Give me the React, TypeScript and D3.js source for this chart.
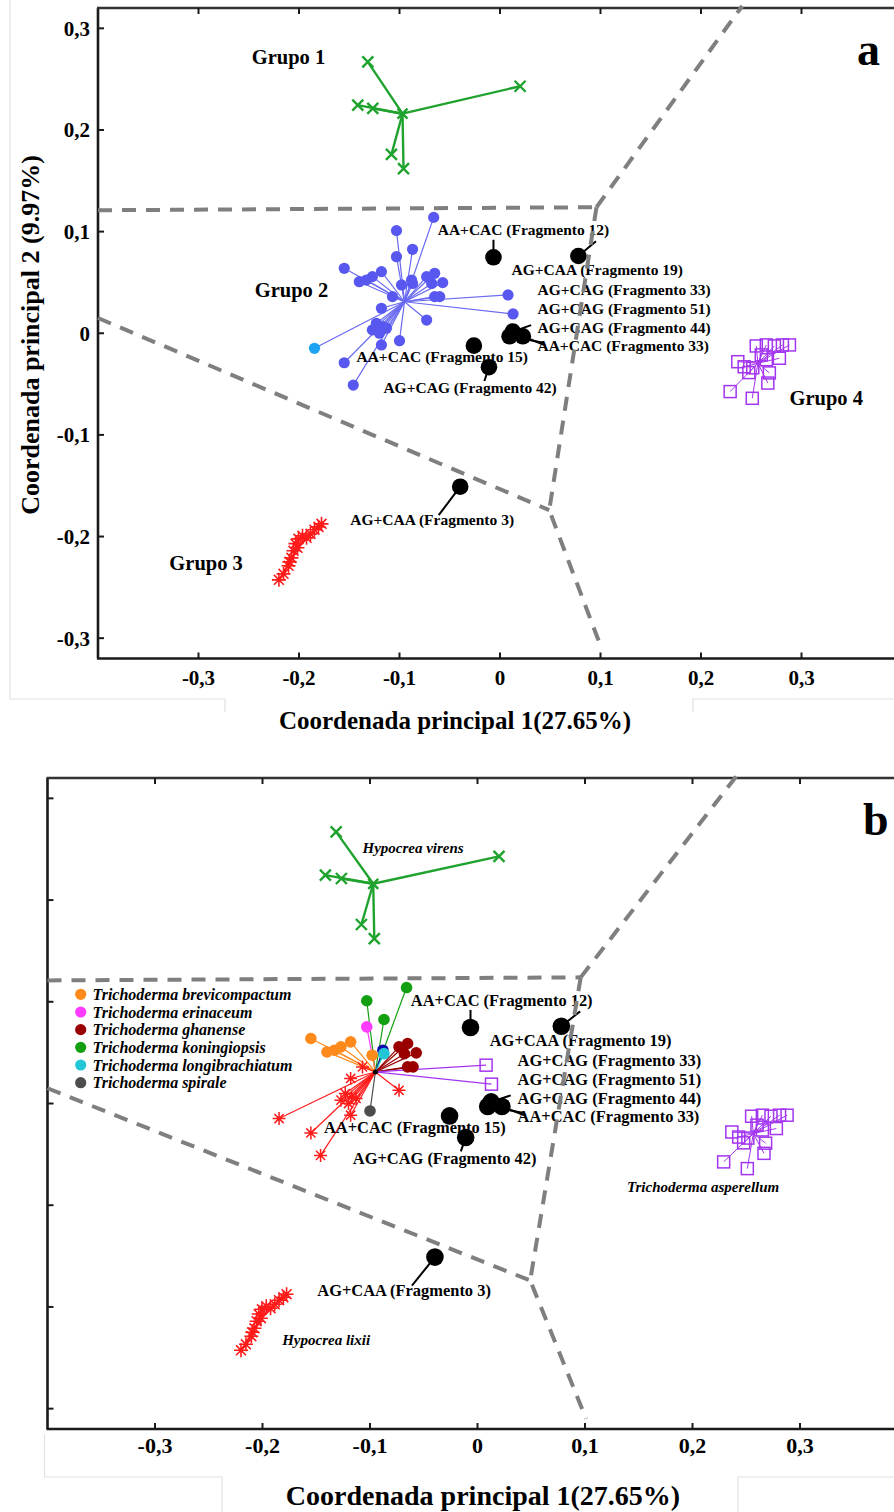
import * as d3 from 'd3';

const TICKS = [-0.3, -0.2, -0.1, 0, 0.1, 0.2, 0.3];
const TICK_LABELS = ['-0,3', '-0,2', '-0,1', '0', '0,1', '0,2', '0,3'];

// Grupo 1 / Hypocrea virens
const grupo1 = [[-0.1315, 0.267], [-0.1415, 0.2245], [-0.1266, 0.2212], [-0.108, 0.176], [-0.096, 0.162], [0.02, 0.243]];
const grupo1Centro = [-0.097, 0.216];

// Grupo 2: x, y, especie (panel b), punto celeste en panel a
const grupo2 = [
  { x: -0.066, y: 0.114, sp: 'kon' },
  { x: -0.103, y: 0.101, sp: 'kon' },
  { x: -0.087, y: 0.0826, sp: 'kon' },
  { x: -0.103, y: 0.0753, sp: 'eri' },
  { x: -0.155, y: 0.0639, sp: 'bre' },
  { x: -0.133, y: 0.0524, sp: 'bre' },
  { x: -0.127, y: 0.0557, sp: 'bre' },
  { x: -0.118, y: 0.0606, sp: 'bre' },
  { x: -0.14, y: 0.0507, sp: 'bre' },
  { x: -0.098, y: 0.0475, sp: 'bre' },
  { x: -0.088, y: 0.0524, sp: 'nav' },
  { x: -0.087, y: 0.049, sp: 'lon' },
  { x: -0.073, y: 0.0557, sp: 'gha' },
  { x: -0.065, y: 0.059, sp: 'gha' },
  { x: -0.068, y: 0.049, sp: 'gha' },
  { x: -0.057, y: 0.0498, sp: 'gha' },
  { x: -0.065, y: 0.036, sp: 'gha' },
  { x: -0.06, y: 0.036, sp: 'gha' },
  { x: -0.107, y: 0.036, sp: 'lix' },
  { x: 0.008, y: 0.0377, sp: 'asp' },
  { x: 0.013, y: 0.019, sp: 'asp' },
  { x: -0.118, y: 0.0246, sp: 'lix' },
  { x: -0.073, y: 0.013, sp: 'lix' },
  { x: -0.123, y: 0.0098, sp: 'lix' },
  { x: -0.117, y: 0.0065, sp: 'lix' },
  { x: -0.127, y: 0.0033, sp: 'lix' },
  { x: -0.12, y: 0.0, sp: 'lix' },
  { x: -0.113, y: 0.005, sp: 'lix' },
  { x: -0.1, y: -0.0073, sp: 'spi' },
  { x: -0.118, y: -0.0115, sp: 'lix' },
  { x: -0.155, y: -0.029, sp: 'lix' },
  { x: -0.1846, y: -0.0148, sp: 'lix', celeste: true },
  { x: -0.146, y: -0.051, sp: 'lix' },
];
const grupo2Centro = [-0.095, 0.031];

// Grupo 3 / Hypocrea lixii
const grupo3 = [
  [-0.22, -0.2426], [-0.2154, -0.2367], [-0.2104, -0.2288], [-0.2095, -0.2249], [-0.2075, -0.221],
  [-0.2055, -0.214], [-0.2015, -0.2111], [-0.2035, -0.207], [-0.2005, -0.2023], [-0.1965, -0.1993],
  [-0.1925, -0.2013], [-0.1886, -0.1974], [-0.1846, -0.1934], [-0.1806, -0.1905], [-0.1776, -0.1875],
];
const grupo3Centro = [-0.201, -0.211];

// Grupo 4 / Trichoderma asperellum
const grupo4 = [
  [0.229, -0.0574], [0.251, -0.064], [0.2665, -0.049], [0.268, -0.039], [0.2366, -0.028],
  [0.243, -0.033], [0.2515, -0.034], [0.255, -0.0125], [0.265, -0.0115], [0.273, -0.0125],
  [0.281, -0.0115], [0.288, -0.0115], [0.278, -0.0246], [0.26, -0.0213], [0.265, -0.026], [0.2476, -0.0387],
];
const grupo4Centro = [0.2566, -0.0295];

// fragmentos (puntos negros)
const fragmentos = [
  [-0.0065, 0.0747], [0.078, 0.076], [0.0127, 0.0016], [0.0095, -0.003], [0.0227, -0.003],
  [-0.026, -0.0122], [-0.011, -0.0334], [-0.0396, -0.151],
];
const guias = [
  [[-0.0065, 0.0747], [-0.0065, 0.092]],
  [[0.078, 0.076], [0.0955, 0.0906]],
  [[0.0127, 0.0016], [0.031, 0.008]],
  [[0.0227, -0.003], [0.045, -0.012]],
  [[0.0095, -0.003], [0.042, -0.009]],
  [[-0.011, -0.0334], [-0.0155, -0.047]],
  [[-0.0396, -0.151], [-0.061, -0.179]],
];
const etiquetas = [
  { t: 'AA+CAC (Fragmento 12)', x: -0.062, y: 0.1016 },
  { t: 'AG+CAA (Fragmento 19)', x: 0.0114, y: 0.0622 },
  { t: 'AG+CAG (Fragmento 33)', x: 0.0373, y: 0.0426 },
  { t: 'AG+CAG (Fragmento 51)', x: 0.0373, y: 0.0239 },
  { t: 'AG+CAG (Fragmento 44)', x: 0.0373, y: 0.0055 },
  { t: 'AA+CAC (Fragmento 33)', x: 0.0373, y: -0.0122 },
  { t: 'AA+CAC (Fragmento 15)', x: -0.1428, y: -0.023 },
  { t: 'AG+CAG (Fragmento 42)', x: -0.116, y: -0.0538 },
  { t: 'AG+CAA (Fragmento 3)', x: -0.149, y: -0.1836 },
];

const gruposA = [
  { t: 'Grupo 1', x: -0.247, y: 0.2717 },
  { t: 'Grupo 2', x: -0.244, y: 0.0426 },
  { t: 'Grupo 3', x: -0.329, y: -0.2259 },
  { t: 'Grupo 4', x: 0.288, y: -0.0636 },
];
const especiesB = [
  { t: 'Hypocrea virens', x: -0.107, y: 0.251 },
  { t: 'Trichoderma asperellum', x: 0.139, y: -0.082 },
  { t: 'Hypocrea lixii', x: -0.1817, y: -0.2327 },
];

// fronteras de los grupos
const fronteras = [
  [[-0.4, 0.121], [0.096, 0.124]],
  [[0.096, 0.124], [0.241, 0.322]],
  [[0.096, 0.124], [0.049, -0.174], [0.101, -0.31]],
  [[-0.4, 0.015], [0.049, -0.174]],
];

const leyenda = [
  ['Trichoderma brevicompactum', 'bre'],
  ['Trichoderma erinaceum', 'eri'],
  ['Trichoderma ghanense', 'gha'],
  ['Trichoderma koningiopsis', 'kon'],
  ['Trichoderma longibrachiatum', 'lon'],
  ['Trichoderma spirale', 'spi'],
];

const COLOR = {
  bre: '#ff8a1c',
  eri: '#ff3cff',
  gha: '#9a0000',
  kon: '#12a012',
  lon: '#22c6d6',
  spi: '#4d4d4d',
  nav: '#0c0caa',
  lix: '#ff1a1a',
  asp: '#a335f0',
};
const VERDE = '#1fa32e';
const AZUL = '#5858f0';
const CELESTE = '#1ea2f2';
const FONT = "'Liberation Serif', 'Times New Roman', serif";

const star = (cx, cy, r) => {
  const d = r * 0.7071;
  return `M${cx - r},${cy}L${cx + r},${cy}M${cx},${cy - r}L${cx},${cy + r}` +
    `M${cx - d},${cy - d}L${cx + d},${cy + d}M${cx - d},${cy + d}L${cx + d},${cy - d}`;
};
const cross = (cx, cy, r) => `M${cx - r},${cy - r}L${cx + r},${cy + r}M${cx - r},${cy + r}L${cx + r},${cy - r}`;

function Panel({ cfg }) {
  const x = d3.scaleLinear().domain([-0.4, 0.4]).range(cfg.xr);
  const y = d3.scaleLinear().domain([-0.32, 0.32]).range(cfg.yr);
  const isB = cfg.id === 'b';
  const k = cfg.k;
  const line = d3.line().x(d => x(d[0])).y(d => y(d[1]));
  const x0 = x(-0.4), yb = y(-0.32), yt = y(0.32);

  const markerB = (p, i) => {
    const cx = x(p.x), cy = y(p.y);
    if (p.sp === 'lix') return <path key={i} d={star(cx, cy, 6.5)} stroke={COLOR.lix} strokeWidth={1.5} fill="none" />;
    if (p.sp === 'asp') return <rect key={i} x={cx - 6} y={cy - 6} width={12} height={12} fill="none" stroke={COLOR.asp} strokeWidth={1.5} />;
    return <circle key={i} cx={cx} cy={cy} r={5.8} fill={COLOR[p.sp]} />;
  };

  return (
    <g>
      {/* ejes */}
      <line x1={x0} x2={x0} y1={yt} y2={yb} stroke="#1a1a1a" strokeWidth={2.6} />
      <line x1={x0 - 1} x2={900} y1={yb} y2={yb} stroke="#1a1a1a" strokeWidth={2.6} />
      <line x1={x0 - 1} x2={900} y1={yt} y2={yt} stroke="#333" strokeWidth={2.6} />
      {TICKS.map((t, i) => (
        <g key={'t' + i}>
          <line x1={x(t)} x2={x(t)} y1={yb} y2={yb - 6} stroke="#1a1a1a" strokeWidth={2} />
          <line x1={x(t)} x2={x(t)} y1={yt} y2={yt + 6} stroke="#1a1a1a" strokeWidth={2} />
          <line x1={x0} x2={x0 + 6} y1={y(t)} y2={y(t)} stroke="#1a1a1a" strokeWidth={2} />
          <text x={x(t)} y={yb + cfg.tickDy} textAnchor="middle" fontFamily={FONT} fontWeight="bold" fontSize={cfg.tickFs}>{TICK_LABELS[i]}</text>
          {!isB && (
            <text x={x0 - 8} y={y(t)} dy="0.35em" textAnchor="end" fontFamily={FONT} fontWeight="bold" fontSize={21}>{TICK_LABELS[i]}</text>
          )}
        </g>
      ))}

      {/* conectores */}
      {grupo1.map((p, i) => (
        <line key={'g1' + i} x1={x(grupo1Centro[0])} y1={y(grupo1Centro[1])} x2={x(p[0])} y2={y(p[1])} stroke={VERDE} strokeWidth={2.4} />
      ))}
      {grupo2.map((p, i) => (
        <line key={'g2' + i} x1={x(grupo2Centro[0])} y1={y(grupo2Centro[1])} x2={x(p.x)} y2={y(p.y)}
          stroke={isB ? COLOR[p.sp] : '#6a6af2'} strokeWidth={1.2} />
      ))}
      {grupo3.map((p, i) => (
        <line key={'g3' + i} x1={x(grupo3Centro[0])} y1={y(grupo3Centro[1])} x2={x(p[0])} y2={y(p[1])} stroke={COLOR.lix} strokeWidth={1.4} />
      ))}
      {grupo4.map((p, i) => (
        <line key={'g4' + i} x1={x(grupo4Centro[0])} y1={y(grupo4Centro[1])} x2={x(p[0])} y2={y(p[1])} stroke={COLOR.asp} strokeWidth={1} />
      ))}
      {guias.map((g, i) => (
        <path key={'gu' + i} d={line(g)} stroke="#000" strokeWidth={2} fill="none" />
      ))}

      {/* etiquetas */}
      {etiquetas.map((e, i) => (
        <text key={'e' + i} x={x(e.x)} y={y(e.y)} dy="0.35em" fontFamily={FONT} fontWeight="bold" fontSize={15.5 * k}>{e.t}</text>
      ))}
      {!isB && gruposA.map((e, i) => (
        <text key={'ga' + i} x={x(e.x)} y={y(e.y)} dy="0.35em" fontFamily={FONT} fontWeight="bold" fontSize={20.5}>{e.t}</text>
      ))}
      {isB && especiesB.map((e, i) => (
        <text key={'eb' + i} x={x(e.x)} y={y(e.y)} dy="0.35em" fontFamily={FONT} fontWeight="bold" fontStyle="italic" fontSize={15}>{e.t}</text>
      ))}

      {/* fronteras */}
      {fronteras.map((f, i) => (
        <path key={'f' + i} d={line(f)} stroke="#7f7f7f" strokeWidth={4} strokeDasharray="14 10" fill="none" />
      ))}

      {/* marcadores */}
      {grupo1.map((p, i) => (
        <path key={'m1' + i} d={cross(x(p[0]), y(p[1]), 5.5)} stroke={VERDE} strokeWidth={2.4} fill="none" />
      ))}
      <path d={cross(x(grupo1Centro[0]), y(grupo1Centro[1]), 5)} stroke={VERDE} strokeWidth={2.4} fill="none" />
      {grupo2.map((p, i) => isB ? markerB(p, 'm2' + i) : (
        <circle key={'m2' + i} cx={x(p.x)} cy={y(p.y)} r={5.6} fill={p.celeste ? CELESTE : AZUL} />
      ))}
      {isB && <circle cx={x(grupo2Centro[0])} cy={y(grupo2Centro[1])} r={2.5} fill="#000" />}
      {grupo3.map((p, i) => (
        <path key={'m3' + i} d={star(x(p[0]), y(p[1]), 7)} stroke={COLOR.lix} strokeWidth={1.6} fill="none" />
      ))}
      {grupo4.map((p, i) => (
        <rect key={'m4' + i} x={x(p[0]) - 6} y={y(p[1]) - 6} width={12} height={12} fill="none" stroke={COLOR.asp} strokeWidth={1.5} />
      ))}
      {fragmentos.map((p, i) => (
        <circle key={'fr' + i} cx={x(p[0])} cy={y(p[1])} r={8.3 * k} fill="#000" />
      ))}

      {/* leyenda */}
      {isB && leyenda.map(([nombre, sp], i) => (
        <g key={'l' + i}>
          <circle cx={80.7} cy={994.3 + i * 17.68} r={5.6} fill={COLOR[sp]} />
          <text x={92.5} y={994.3 + i * 17.68} dy="0.35em" fontFamily={FONT} fontWeight="bold" fontStyle="italic" fontSize={16}>{nombre}</text>
        </g>
      ))}

      <text x={cfg.letter[0]} y={cfg.letter[1]} fontFamily={FONT} fontWeight="bold" fontSize={46}>{cfg.id}</text>
      <text x={cfg.title[0]} y={cfg.title[1]} textAnchor="middle" fontFamily={FONT} fontWeight="bold" fontSize={cfg.title[2]}>Coordenada principal 1(27.65%)</text>
    </g>
  );
}

const PANELES = [
  { id: 'a', xr: [98, 902], yr: [658.5, 8], k: 1, tickDy: 26, tickFs: 21, letter: [857, 65], title: [455, 729, 25] },
  { id: 'b', xr: [47.5, 907.5], yr: [1429, 778], k: 1.06, tickDy: 24, tickFs: 22, letter: [863, 835], title: [483, 1505, 28] },
];

export default function App() {
  return (
    <svg width={894} height={1512} style={{ position: 'absolute', left: 0, top: 0, background: '#fff' }}>
      <rect width={894} height={1512} fill="#fff" />
      {/* marco tenue de la figura */}
      <g stroke="#e2e2e2" strokeWidth={1.2} fill="none">
        <path d="M10,0V699H225V712M693,712V699H894" />
        <path d="M44.5,1434V1477H222V1512M738,1512V1477H894" />
      </g>
      <text transform="translate(30,335) rotate(-90)" textAnchor="middle" dy="0.35em" fontFamily={FONT} fontWeight="bold" fontSize={26}>
        Coordenada principal 2 (9.97%)
      </text>
      {PANELES.map(p => <Panel key={p.id} cfg={p} />)}
    </svg>
  );
}
